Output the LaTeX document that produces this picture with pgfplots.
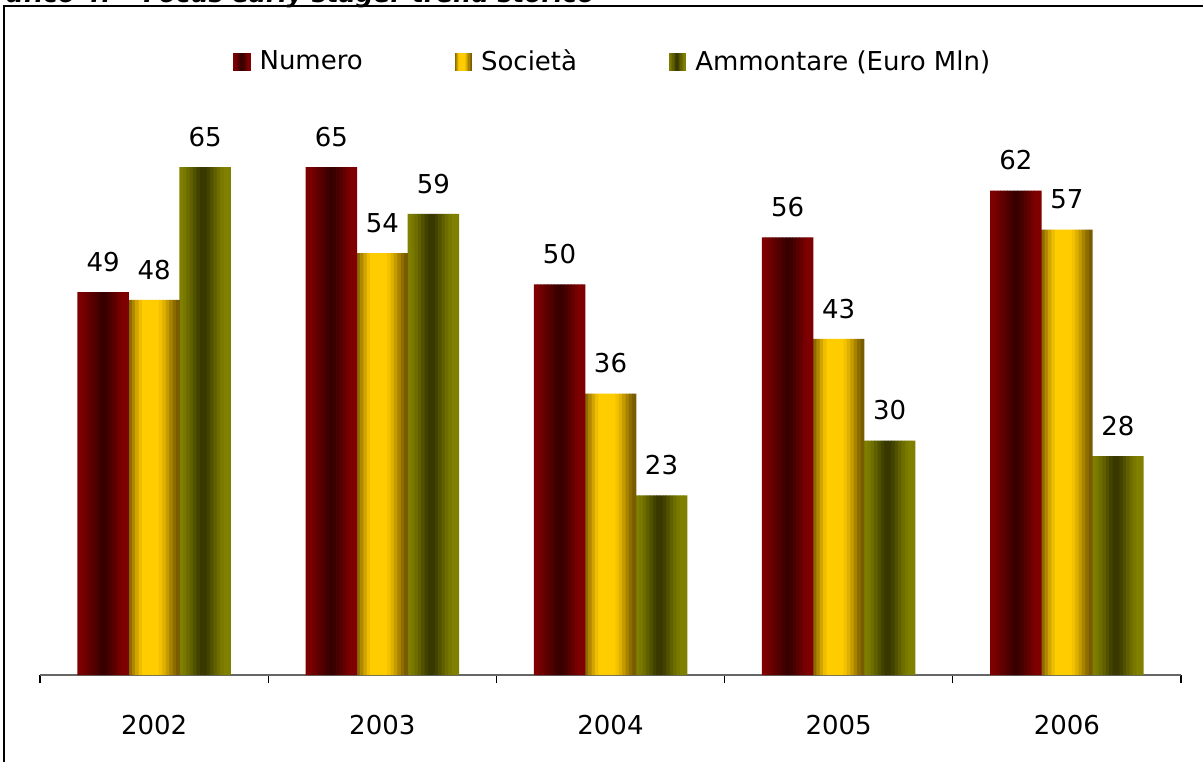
\documentclass[border=0pt]{standalone}
\usepackage{fontspec}
\setmainfont{DejaVu Sans}
\usepackage{pgfplots}
\usepackage{pgfplotstable}
\pgfplotsset{compat=1.18}
\definecolor{numE}{HTML}{7F0000}
\definecolor{numC}{HTML}{360000}
\definecolor{socL}{HTML}{8C6A00}
\definecolor{socC}{HTML}{FFCC00}
\definecolor{socR}{HTML}{7A5C00}
\definecolor{ammE}{HTML}{808000}
\definecolor{ammC}{HTML}{383800}
% gradient strips (15 per bar)
\foreach \p [count=\i from 0] in {0,10,25,40,55,70,85,100,90,75,55,35,15,0,0}
  {\xglobal\colorlet{num\i}{numC!\p!numE}}
\foreach \p [count=\i from 0] in {0,30,60,85,100,100,100,100,100,90,75,55,35,15,0}
  {\ifnum\i<8 \xglobal\colorlet{soc\i}{socC!\p!socL}\else\xglobal\colorlet{soc\i}{socC!\p!socR}\fi}
\foreach \p [count=\i from 0] in {0,10,25,45,65,85,100,100,85,65,45,25,10,0,0}
  {\xglobal\colorlet{amm\i}{ammC!\p!ammE}}
\pgfplotstableread{
x y
0 49
1 65
2 50
3 56
4 62
}\numtab
\pgfplotstableread{
x y
0 48
1 54
2 36
3 43
4 57
}\soctab
\pgfplotstableread{
x y
0 65
1 59
2 23
3 30
4 28
}\ammtab
\begin{document}
\begin{tikzpicture}[x=0.5pt,y=0.5pt]
\clip (0,0) rectangle (1203,761);
\fill[white] (0,0) rectangle (1203,761);
\draw[line width=1pt] (4,-5) -- (4,755) -- (1210,755);
\node[anchor=base east, font=\bfseries\itshape\fontsize{12.5}{14}\selectfont, inner sep=0pt] at (595,758) {Grafico 4. – Focus early stage: trend storico};
\begin{axis}[
  at={(20pt,43pt)}, anchor=south west,
  scale only axis, width=570.5pt, height=273.5pt,
  ybar, bar width=25.5pt,
  xmin=-0.5, xmax=4.5, ymin=0, ymax=70,
  axis x line*=bottom, axis y line=none,
  x axis line style={draw=gray!80!black, line width=0.6pt},
  xtick={-0.5,0.5,1.5,2.5,3.5,4.5},
  x tick label as interval,
  xticklabels={2002,2003,2004,2005,2006},
  tick align=outside, major tick length=4pt,
  xtick style={draw=black, line width=0.6pt},
  ytick=\empty,
  xticklabel style={font=\fontsize{13}{15}\selectfont, inner sep=0pt, yshift=-16pt},
  /pgf/number format/assume math mode=true,
  every node near coord/.append style={font=\fontsize{13}{15}\selectfont, inner sep=0pt, anchor=south, yshift=10pt, text=black},
  clip=false,
  legend columns=3,
  legend style={at={(0.1691,1.1207)}, anchor=west, draw=none, fill=none,
    font=\fontsize{13}{15}\selectfont, inner sep=0pt,
    nodes={inner sep=0pt},
    /tikz/every odd column/.append style={column sep=4.5pt},
    /tikz/every even column/.append style={column sep=46pt}},
]
\pgfplotsinvokeforeach{0,...,14}{
  \addplot[draw=none, fill=num#1, bar width=1.95pt, bar shift={-25.5pt+(#1-7)*1.7pt}, forget plot] table[x=x,y=y] {\numtab};
  \addplot[draw=none, fill=soc#1, bar width=1.95pt, bar shift={(#1-7)*1.7pt}, forget plot] table[x=x,y=y] {\soctab};
  \addplot[draw=none, fill=amm#1, bar width=1.95pt, bar shift={25.5pt+(#1-7)*1.7pt}, forget plot] table[x=x,y=y] {\ammtab};
}
\addplot[draw=none, fill=none, bar shift=-25.5pt, nodes near coords,
  legend image code/.code={\foreach \k in {0,...,14}{\fill[num\k] ({\k*0.567pt},-4.5pt) rectangle ({(\k+1)*0.567pt+0.1pt},4.5pt);}}]
  table[x=x,y=y] {\numtab};
\addlegendentry{Numero}
\addplot[draw=none, fill=none, bar shift=0pt, nodes near coords,
  legend image code/.code={\foreach \k in {0,...,14}{\fill[soc\k] ({\k*0.567pt},-4.5pt) rectangle ({(\k+1)*0.567pt+0.1pt},4.5pt);}}]
  table[x=x,y=y] {\soctab};
\addlegendentry{Società}
\addplot[draw=none, fill=none, bar shift=25.5pt, nodes near coords,
  legend image code/.code={\foreach \k in {0,...,14}{\fill[amm\k] ({\k*0.567pt},-4.5pt) rectangle ({(\k+1)*0.567pt+0.1pt},4.5pt);}}]
  table[x=x,y=y] {\ammtab};
\addlegendentry{Ammontare (Euro Mln)}
\end{axis}
\end{tikzpicture}
\end{document}
